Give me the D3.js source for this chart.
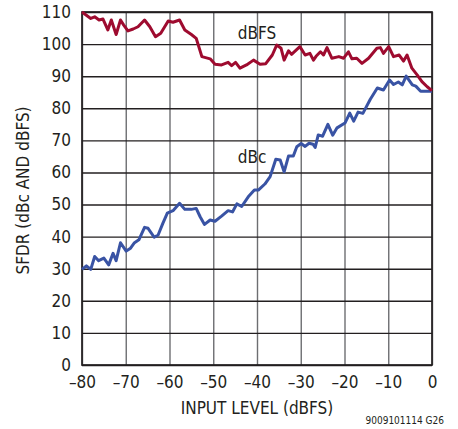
<!DOCTYPE html>
<html>
<head>
<meta charset="utf-8">
<script src="https://cdn.jsdelivr.net/npm/d3@7"></script>
<style>
  html, body { margin: 0; padding: 0; background: #fff; }
  svg text { font-family: "DejaVu Sans Condensed", "Liberation Sans Narrow", sans-serif; fill: #231f20; }
</style>
</head>
<body>
<svg id="chart" width="458" height="429"></svg>
<script>
// ---- data ----
const xTicks = [-80, -70, -60, -50, -40, -30, -20, -10, 0];
const yTicks = [0, 10, 20, 30, 40, 50, 60, 70, 80, 90, 100, 110];

const dbfsInput = [-80, -78, -77.1, -76.1, -75.2, -74.1, -73.3, -72.2, -71.2, -70.5, -69.5, -68.3, -67.2, -65.7, -64.5, -63.2, -62, -60.3, -59.2, -57.7, -56.5, -55, -53.9, -52.6, -50.7, -49.6, -48.1, -46.6, -45.8, -44.9, -43.9, -42.4, -40.8, -39.3, -38, -36.5, -35.5, -34.5, -33.8, -32.8, -32.1, -30.2, -29, -27.9, -27.1, -26.5, -25.5, -24.8, -24, -22.9, -21.3, -20.2, -19.1, -18.3, -17.2, -16, -14.5, -12.6, -11.8, -11.1, -9.9, -8.8, -7.5, -6.5, -5.7, -4.6, -3.4, -2.3, -1.1, 0];
const dbfsSFDR = [110, 108, 108.5, 107.5, 107.8, 104.4, 107.5, 103, 107.5, 106, 104.1, 104.7, 105.4, 107.5, 105.4, 102.3, 103.4, 107.2, 106.8, 107.5, 104.4, 103, 101.8, 96.1, 95.4, 93.7, 93.5, 94.3, 93.3, 94.3, 92.5, 93.5, 95, 93.7, 93.9, 96.6, 99.7, 98.7, 95, 97.9, 96.8, 99.2, 96.6, 97.1, 95, 96.2, 97.6, 96.6, 98.9, 95.6, 96.1, 95.6, 97.6, 95.4, 95.6, 94, 95.6, 98.7, 98.9, 97.1, 99.2, 96.1, 96.6, 94.7, 96.6, 92.5, 90.4, 88.3, 86.7, 85.5];

const dbcInput = [-80, -79, -78, -77.1, -76.2, -75, -73.9, -72.9, -72.2, -71.2, -69.9, -68.9, -68, -67, -65.7, -64.9, -63.5, -62.6, -61.5, -60.5, -59.2, -57.7, -56.5, -55, -53.9, -53, -52, -50.7, -49.6, -48.1, -46.6, -45.6, -44.6, -43.5, -42, -40.6, -39.7, -38.2, -37, -35.7, -34.7, -33.8, -32.8, -31.7, -30.9, -29.9, -29, -28.1, -27.2, -26.7, -26, -25, -23.8, -22.7, -21.7, -19.9, -18.8, -17.9, -16.9, -15.8, -14.1, -12.5, -11.1, -9.7, -8.8, -7.7, -6.8, -5.9, -4.5, -3.7, -2.6, 0];
const dbcSFDR = [29.8, 30.9, 29.8, 33.8, 32.5, 33.3, 31.2, 34.8, 32.5, 38.1, 35.5, 36.4, 38.1, 39, 42.9, 42.6, 39.8, 40.5, 44.2, 47.3, 48.1, 50.4, 48.5, 48.5, 48.8, 46.2, 43.8, 45.2, 44.8, 46.4, 48.1, 47.7, 50.2, 49.4, 52.4, 54.5, 54.5, 56.4, 58.7, 64.1, 63.9, 60.2, 65.1, 65.1, 68, 69, 68.1, 69.1, 68.8, 67.8, 71.7, 71.3, 75, 71.6, 73.9, 75.4, 78.5, 76, 78.8, 78.4, 82.8, 86.3, 85.7, 88.8, 87.4, 88.2, 87.3, 90, 87.3, 86.9, 85.3, 85.3];

const seriesNames = ["dBFS", "dBc"];
const xTitle = "INPUT LEVEL (dBFS)";
const yTitle = "SFDR (dBc AND dBFS)";
const footnote = "9009101114 G26";

// ---- layout ----
const W = 458, H = 429;
const m = { left: 82, right: 26, top: 12, bottom: 64 };
const FS = 17;
const svg = d3.select("#chart");

const x = d3.scaleLinear().domain([-80, 0]).range([m.left, W - m.right]);
const y = d3.scaleLinear().domain([0, 110]).range([H - m.bottom, m.top]);

const fmtX = d => d < 0 ? "\u2013" + Math.abs(d) : String(d);

// grid: vertical + x tick labels
svg.append("g")
  .attr("transform", `translate(0,${H - m.bottom})`)
  .call(d3.axisBottom(x).tickValues(xTicks).tickSize(-(H - m.top - m.bottom)).tickFormat(fmtX).tickPadding(11))
  .call(g => g.select(".domain").remove())
  .call(g => g.selectAll(".tick line").attr("stroke", "#6d6e71").attr("stroke-width", 1.4))
  .call(g => g.selectAll(".tick text").attr("font-size", FS).attr("fill", "#231f20")
     .style("font-family", '"DejaVu Sans Condensed", sans-serif'));

// grid: horizontal + y tick labels
svg.append("g")
  .attr("transform", `translate(${m.left},0)`)
  .call(d3.axisLeft(y).tickValues(yTicks).tickSize(-(W - m.left - m.right)).tickPadding(11))
  .call(g => g.select(".domain").remove())
  .call(g => g.selectAll(".tick line").attr("stroke", "#231f20").attr("stroke-width", 1.4))
  .call(g => g.selectAll(".tick text").attr("font-size", FS).attr("fill", "#231f20")
     .style("font-family", '"DejaVu Sans Condensed", sans-serif'));

// frame
svg.append("rect")
  .attr("x", m.left).attr("y", m.top)
  .attr("width", W - m.left - m.right).attr("height", H - m.top - m.bottom)
  .attr("fill", "none").attr("stroke", "#231f20").attr("stroke-width", 1.7);

// lines
const line = d3.line().x(d => x(d[0])).y(d => y(d[1])).curve(d3.curveLinear);
const dbfs = dbfsInput.map((v, i) => [v, dbfsSFDR[i]]);
const dbc = dbcInput.map((v, i) => [v, dbcSFDR[i]]);

svg.append("path").datum(dbc).attr("d", line)
  .attr("fill", "none").attr("stroke", "#3953a4").attr("stroke-width", 3).attr("stroke-linejoin", "round");
svg.append("path").datum(dbfs).attr("d", line)
  .attr("fill", "none").attr("stroke", "#9e0b2f").attr("stroke-width", 3).attr("stroke-linejoin", "round");

// series labels
svg.append("text").attr("x", x(-44.4)).attr("y", y(101.7)).attr("font-size", FS).text(seriesNames[0]);
svg.append("text").attr("x", x(-44.4)).attr("y", y(63)).attr("font-size", FS).text(seriesNames[1]);

// axis titles
svg.append("text").attr("x", x(-40)).attr("y", 414).attr("text-anchor", "middle").attr("font-size", FS).text(xTitle);
svg.append("text").attr("transform", `translate(29,${(m.top + H - m.bottom) / 2 + 2}) rotate(-90)`)
  .attr("text-anchor", "middle").attr("font-size", FS).text(yTitle);

// footnote
svg.append("text").attr("x", 444).attr("y", 424).attr("text-anchor", "end").attr("font-size", 10).text(footnote);
</script>
</body>
</html>
